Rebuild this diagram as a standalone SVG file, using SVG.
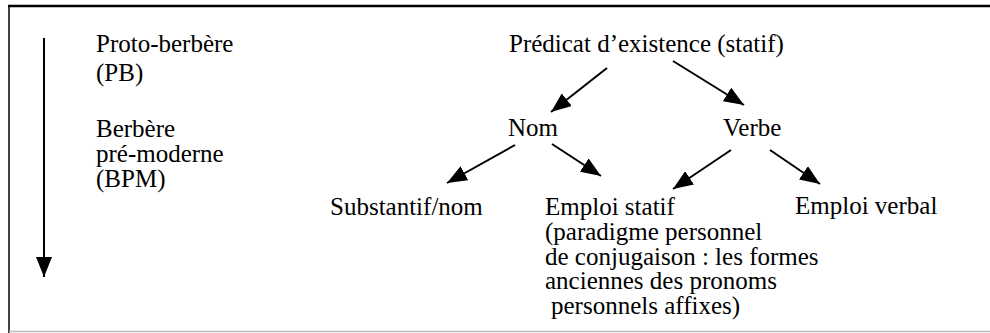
<svg xmlns="http://www.w3.org/2000/svg" width="990" height="333" viewBox="0 0 990 333">
  <defs>
    <marker id="head" viewBox="0 0 20 16" refX="20" refY="8" markerWidth="20" markerHeight="16" markerUnits="userSpaceOnUse" orient="auto">
      <path d="M0,0 L20,8 L0,16 Z" fill="#000"/>
    </marker>
  </defs>
  <style>
    text { font-family: "Liberation Serif", "Times New Roman", serif; font-size: 25px; fill: #000; }
    .edge { stroke: #000; stroke-width: 2; fill: none; marker-end: url(#head); }
  </style>
  <rect width="990" height="333" fill="#fff"/>

  <!-- frame -->
  <g id="frame">
    <line x1="8" y1="6" x2="990" y2="6" stroke="#000" stroke-width="2.5"/>
    <line x1="9" y1="5" x2="9" y2="333" stroke="#000" stroke-width="1.5"/>
    <line x1="9" y1="331.5" x2="990" y2="331.5" stroke="#bbb" stroke-width="1.5"/>
  </g>

  <!-- time axis -->
  <g id="timeline">
    <line class="edge" x1="44" y1="38" x2="44" y2="277"/>
  </g>

  <g id="period-pb">
    <text x="96" y="52">Proto-berbère<tspan x="96" y="81">(PB)</tspan></text>
  </g>
  <g id="period-bpm">
    <text x="96" y="137">Berbère<tspan x="96" y="162">pré-moderne</tspan><tspan x="96" y="187">(BPM)</tspan></text>
  </g>

  <g id="connectors">
    <line class="edge" x1="607" y1="68" x2="551" y2="112"/>
    <line class="edge" x1="673" y1="61" x2="744" y2="105"/>
    <line class="edge" x1="515" y1="145" x2="447" y2="183"/>
    <line class="edge" x1="552" y1="144" x2="601" y2="176"/>
    <line class="edge" x1="731" y1="150" x2="673" y2="189"/>
    <line class="edge" x1="770" y1="150" x2="820" y2="184"/>
  </g>

  <g id="predicat">
    <text x="509" y="52">Prédicat d’existence (statif)</text>
  </g>
  <g id="nom">
    <text x="508" y="136">Nom</text>
  </g>
  <g id="verbe">
    <text x="723" y="136">Verbe</text>
  </g>
  <g id="substantif">
    <text x="330" y="215">Substantif/nom</text>
  </g>
  <g id="emploi-statif">
    <text x="545" y="215">Emploi statif<tspan x="545" y="240">(paradigme personnel</tspan><tspan x="545" y="264.5">de conjugaison : les formes</tspan><tspan x="545" y="289">anciennes des pronoms</tspan><tspan x="551" y="313.5">personnels affixes)</tspan></text>
  </g>
  <g id="emploi-verbal">
    <text x="795" y="214">Emploi verbal</text>
  </g>
</svg>
